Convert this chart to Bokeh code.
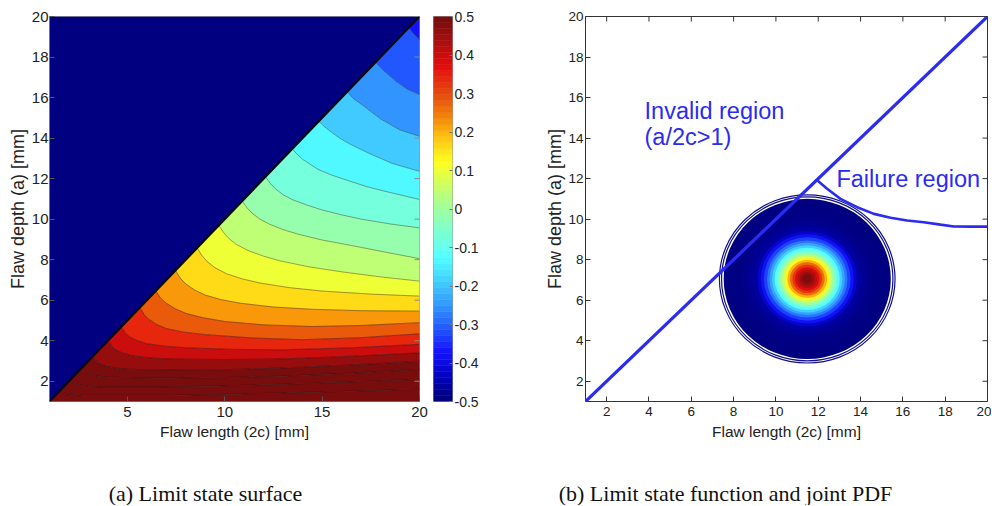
import numpy as np
from bokeh.plotting import figure
from bokeh.layouts import row, column
from bokeh.models import Range1d, FixedTicker, CustomJSTickFormatter
from bokeh.embed import file_html
from bokeh.resources import INLINE
from bokeh.core.properties import value

FONT = "Liberation Sans"

# ---------------- data ----------------
c_min, c_max = 1.0, 20.0
a_min, a_max = 1.0, 20.0

# (a) limit-state surface: contour levels and their traced lines
contour_levels = [-0.345, -0.285, -0.225, -0.165, -0.105, -0.045, 0.015, 0.075, 0.135,
                  0.195, 0.255, 0.315, 0.375, 0.435, 0.495, 0.555, 0.615, 0.675]
contour_x = [
    [19.45, 19.7, 20.0],
    [17.74, 18.2, 18.8, 19.4, 20.0],
    [16.29, 16.6, 17.0, 18.0, 19.0, 20.0],
    [14.83, 15.1, 15.4, 15.9, 16.4, 17.4, 18.6, 20.0],
    [13.46, 13.72, 14.0, 14.8, 15.5, 16.5, 17.3, 18.2, 20.0],
    [12.09, 12.35, 12.6, 13.0, 13.5, 14.2, 15.0, 16.0, 17.0, 18.5, 20.0],
    [10.89, 11.15, 11.4, 11.8, 12.3, 13.0, 13.8, 15.0, 16.5, 18.2, 20.0],
    [9.69, 9.95, 10.2, 10.6, 11.2, 12.0, 12.8, 14.3, 16.0, 18.0, 20.0],
    [8.58, 8.83, 9.1, 9.5, 10.1, 10.9, 11.8, 13.3, 15.0, 17.5, 20.0],
    [7.47, 7.72, 8.0, 8.45, 9.0, 9.8, 10.8, 12.5, 14.5, 17.0, 20.0],
    [6.46, 6.7, 7.0, 7.45, 8.0, 8.9, 10.0, 12.0, 14.5, 17.0, 20.0],
    [5.64, 5.85, 6.1, 6.5, 7.0, 7.9, 9.0, 11.5, 14.0, 17.0, 20.0],
    [4.68, 4.88, 5.1, 5.5, 6.0, 7.0, 8.0, 10.5, 13.0, 16.5, 20.0],
    [3.99, 4.2, 4.4, 4.8, 5.3, 6.2, 7.0, 10.0, 13.0, 16.5, 20.0],
    [3.22, 3.4, 3.6, 4.0, 4.6, 5.7, 7.0, 10.0, 13.0, 16.5, 20.0],
    [2.63, 2.8, 3.0, 3.4, 4.0, 5.5, 7.0, 10.0, 13.0, 16.5, 20.0],
    [2.03, 2.2, 2.4, 2.9, 3.5, 7.0, 10.0, 13.0, 16.5, 20.0],
    [1.51, 1.7, 1.9, 2.4, 3.0, 7.0, 10.0, 13.0, 16.5, 20.0],
]
contour_y = [
    [19.45, 19.15, 18.86],
    [17.74, 17.3, 16.8, 16.4, 16.15],
    [16.29, 15.95, 15.68, 14.95, 14.4, 14.09],
    [14.83, 14.58, 14.35, 14.0, 13.72, 13.25, 12.75, 12.36],
    [13.46, 13.2, 12.95, 12.45, 12.17, 11.85, 11.6, 11.38, 10.97],
    [12.09, 11.75, 11.5, 11.2, 10.95, 10.7, 10.45, 10.21, 10.0, 9.76, 9.57],
    [10.89, 10.55, 10.3, 10.0, 9.75, 9.48, 9.25, 8.97, 8.7, 8.38, 8.05],
    [9.69, 9.33, 9.05, 8.75, 8.45, 8.17, 7.95, 7.65, 7.4, 7.15, 6.94],
    [8.58, 8.2, 7.9, 7.6, 7.3, 7.05, 6.85, 6.62, 6.45, 6.3, 6.2],
    [7.47, 7.08, 6.8, 6.5, 6.25, 6.03, 5.85, 5.66, 5.55, 5.48, 5.46],
    [6.46, 6.1, 5.85, 5.58, 5.35, 5.13, 4.95, 4.78, 4.7, 4.75, 4.89],
    [5.64, 5.3, 5.05, 4.8, 4.6, 4.42, 4.3, 4.13, 4.05, 4.15, 4.34],
    [4.68, 4.4, 4.2, 4.0, 3.85, 3.72, 3.65, 3.57, 3.55, 3.65, 3.82],
    [3.99, 3.73, 3.55, 3.37, 3.25, 3.15, 3.1, 3.07, 3.1, 3.23, 3.40],
    [3.22, 3.0, 2.85, 2.72, 2.62, 2.57, 2.55, 2.57, 2.65, 2.8, 2.99],
    [2.63, 2.45, 2.35, 2.26, 2.2, 2.16, 2.15, 2.18, 2.25, 2.4, 2.58],
    [2.03, 1.92, 1.85, 1.77, 1.72, 1.72, 1.77, 1.85, 1.96, 2.09],
    [1.51, 1.43, 1.38, 1.33, 1.3, 1.3, 1.35, 1.42, 1.51, 1.60],
]
invalid_value = -0.5
cbar_low, cbar_high = -0.5, 0.5
cbar_ticks = [-0.5, -0.4, -0.3, -0.2, -0.1, 0.0, 0.1, 0.2, 0.3, 0.4, 0.5]

# (b) limit-state function and joint PDF
failure_c = [11.92, 12.42, 13.05, 13.84, 14.63, 15.42, 16.2, 16.99, 17.78, 18.41, 19.2, 20.0]
failure_a = [11.94, 11.50, 11.0, 10.59, 10.26, 10.07, 9.93, 9.85, 9.73, 9.64, 9.63, 9.63]
pdf_center_c, pdf_center_a = 11.48, 7.05
pdf_ring_radius = [3.95, 3.5, 3.1, 2.8, 2.55, 2.35, 2.2, 2.05, 1.9, 1.78, 1.66, 1.54,
                   1.42, 1.3, 1.18, 1.06, 0.94, 0.82, 0.7, 0.58, 0.46, 0.34, 0.22]
pdf_ring_level = [0.0, 0.003, 0.008, 0.018, 0.035, 0.07, 0.115, 0.165, 0.215, 0.261, 0.313, 0.370,
                  0.432, 0.498, 0.566, 0.635, 0.704, 0.770, 0.830, 0.885, 0.930, 0.965, 0.995]
pdf_edge_radius = [4.05, 4.15]

ticks_a_x = [5, 10, 15, 20]
ticks_even = [2, 4, 6, 8, 10, 12, 14, 16, 18, 20]
captions = ["(a) Limit state surface", "(b) Limit state function and joint PDF"]


# ---------------- helpers ----------------
def jet_rgb(v):
    v = min(max(v, 0.0), 1.0)
    r = min(max(1.5 - abs(4 * v - 3), 0.0), 1.0)
    g = min(max(1.5 - abs(4 * v - 2), 0.0), 1.0)
    b = min(max(1.5 - abs(4 * v - 1), 0.0), 1.0)
    return r, g, b


def jet(v):
    """jet colour with the soft look of the printed figure"""
    v = min(max(v, 0.0), 1.0)
    r, g, b = jet_rgb(v)
    w = 0.35 * max(0.0, 1 - abs(v - 0.4) / 0.35)
    r, g, b = [c + (1 - c) * w for c in (r, g, b)]
    if v > 0.7:
        k = min((v - 0.7) / 0.1, 1.0)
        r, g, b = [c * (1 - 0.15 * k) + 0.05 * k for c in (r, g, b)]
    return "#%02x%02x%02x" % (int(round(r * 255)), int(round(g * 255)), int(round(b * 255)))


def norm(v):
    return (v - cbar_low) / (cbar_high - cbar_low)


def style_axis(ax, ticks, size, tick_color="#555555", standoff=3):
    ax.ticker = FixedTicker(ticks=ticks)
    ax.major_tick_in = 5
    ax.major_tick_out = 0
    ax.minor_tick_line_color = None
    ax.axis_line_color = None
    ax.major_tick_line_color = tick_color
    ax.major_label_text_font = FONT
    ax.major_label_text_font_size = size
    ax.major_label_text_color = "#222222"
    ax.major_label_standoff = standoff
    ax.axis_label_text_font = FONT
    ax.axis_label_text_font_style = "normal"
    ax.axis_label_text_color = "#222222"


def mirror_ticks(p, xt, yt, color):
    """inward tick marks on the top and right frame edges"""
    if xt:
        p.scatter(x=xt, y=[a_max] * len(xt), marker="dash", size=10, angle=np.pi / 2,
                  line_color=color, line_width=1)
    if yt:
        p.scatter(x=[c_max] * len(yt), y=yt, marker="dash", size=10,
                  line_color=color, line_width=1)


# ---------------- (a) limit state surface ----------------
pa = figure(width=433, height=450, x_range=Range1d(c_min, c_max), y_range=Range1d(a_min, a_max),
            output_backend="svg", toolbar_location=None,
            min_border_left=49, min_border_right=14, min_border_top=16, min_border_bottom=49)
pa.grid.visible = False
pa.outline_line_color = "#9a9a9a"

pa.patch([c_min, c_max, c_min], [a_min, a_max, a_max], fill_color=jet(norm(invalid_value)),
         line_color=None)

step_top = contour_levels[1] - contour_levels[0]
step_bot = contour_levels[-1] - contour_levels[-2]
band_vals = [contour_levels[0] - step_top / 2]
band_xs = [contour_x[0] + [c_max]]
band_ys = [contour_y[0] + [a_max]]
for k in range(len(contour_levels) - 1):
    band_vals.append((contour_levels[k] + contour_levels[k + 1]) / 2)
    band_xs.append(contour_x[k] + contour_x[k + 1][::-1])
    band_ys.append(contour_y[k] + contour_y[k + 1][::-1])
band_vals.append(contour_levels[-1] + step_bot / 2)
band_xs.append(contour_x[-1] + [c_max, c_min])
band_ys.append(contour_y[-1] + [a_min, a_min])
band_colors = [jet(norm(v)) for v in band_vals]
pa.patches(band_xs, band_ys, fill_color=band_colors, line_color=band_colors, line_width=0.5)
pa.multi_line(contour_x, contour_y, line_color="#1a1a1a", line_alpha=0.5, line_width=0.8)
pa.line([c_min, c_max], [a_min, a_max], line_color="#0a0a0a", line_width=2.2)
mirror_ticks(pa, None, ticks_even, "#8a8a8a")

style_axis(pa.xaxis[0], ticks_a_x, "15px", standoff=5)
style_axis(pa.yaxis[0], ticks_even, "15px", standoff=1)
pa.xaxis[0].axis_label = "Flaw length (2c) [mm]"
pa.xaxis[0].axis_label_text_font_size = "15.5px"
pa.xaxis[0].axis_label_standoff = 3
pa.yaxis[0].axis_label = "Flaw depth (a) [mm]"
pa.yaxis[0].axis_label_text_font_size = "18px"
pa.yaxis[0].axis_label_standoff = 1

# ---------------- colour bar ----------------
pc = figure(width=59, height=450, x_range=Range1d(0, 1), y_range=Range1d(cbar_low, cbar_high),
            output_backend="svg", toolbar_location=None, y_axis_location="right",
            min_border_left=0, min_border_right=40, min_border_top=16, min_border_bottom=49)
pc.grid.visible = False
pc.xaxis.visible = False
pc.outline_line_color = "#9a9a9a"
jet64 = [jet(i / 63) for i in range(64)]
edges = np.linspace(cbar_low, cbar_high, 65)
pc.quad(left=0, right=1, bottom=edges[:-1], top=edges[1:], fill_color=jet64, line_color=jet64,
        line_width=0.5)
style_axis(pc.yaxis[0], cbar_ticks, "14px", tick_color="#777777", standoff=2)
pc.yaxis[0].major_tick_in = 3
pc.yaxis[0].formatter = CustomJSTickFormatter(code="return (Math.round(tick*10)/10).toString();")

# ---------------- (b) limit state function and joint PDF ----------------
pb = figure(width=499, height=450, x_range=Range1d(c_min, c_max), y_range=Range1d(a_min, a_max),
            output_backend="svg", toolbar_location=None,
            min_border_left=93, min_border_right=4, min_border_top=16, min_border_bottom=49)
pb.grid.visible = False
pb.outline_line_color = "#333333"

n_r = len(pdf_ring_radius)
pb.ellipse(x=[pdf_center_c] * n_r, y=[pdf_center_a] * n_r,
           width=[2 * r for r in pdf_ring_radius], height=[2 * r for r in pdf_ring_radius],
           fill_color=[jet(v) for v in pdf_ring_level], line_color=None)
pb.ellipse(x=[pdf_center_c] * len(pdf_edge_radius), y=[pdf_center_a] * len(pdf_edge_radius),
           width=[2 * r for r in pdf_edge_radius], height=[2 * r for r in pdf_edge_radius],
           fill_color=None, line_color="#10108a", line_width=1.2)

blue = "#2b2bf2"
pb.line([c_min, c_max], [a_min, a_max], line_color=blue, line_width=3.2)
pb.line(failure_c, failure_a, line_color=blue, line_width=2.6)

pb.text(x=[3.79, 3.79], y=[15.36, 14.03], text=["Invalid region", "(a/2c>1)"],
        text_font=value(FONT), text_font_size="23.5px", text_color=blue,
        text_align="left", text_baseline="middle")
pb.text(x=[12.86], y=[11.96], text=["Failure region"],
        text_font=value(FONT), text_font_size="23.5px", text_color=blue,
        text_align="left", text_baseline="middle")
mirror_ticks(pb, ticks_even, ticks_even, "#333333")

style_axis(pb.xaxis[0], ticks_even, "13.5px", tick_color="#333333", standoff=5)
style_axis(pb.yaxis[0], ticks_even, "13.5px", tick_color="#333333", standoff=2)
pb.xaxis[0].axis_label = "Flaw length (2c) [mm]"
pb.xaxis[0].axis_label_text_font_size = "15.5px"
pb.xaxis[0].axis_label_standoff = 4
pb.yaxis[0].axis_label = "Flaw depth (a) [mm]"
pb.yaxis[0].axis_label_text_font_size = "18px"
pb.yaxis[0].axis_label_standoff = 0

# ---------------- captions ----------------
pcap = figure(width=991, height=55, x_range=Range1d(0, 991), y_range=Range1d(0, 55),
              output_backend="svg", toolbar_location=None, x_axis_type=None, y_axis_type=None,
              min_border=0)
pcap.grid.visible = False
pcap.outline_line_color = None
pcap.text(x=[205, 725], y=[12, 12], text=captions, text_font=value("Liberation Serif"),
          text_font_size="22px", text_color="#111111", text_align="center", text_baseline="middle")

layout = column(row(pa, pc, pb), pcap)
open("out.html", "w").write(file_html(layout, INLINE))
